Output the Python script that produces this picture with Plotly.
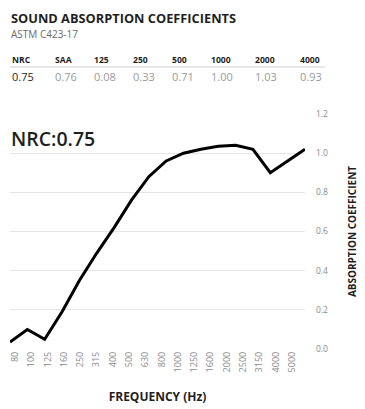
import plotly.graph_objects as go

# ---- data ----
freq_labels = ["80", "100", "125", "160", "250", "315", "400", "500", "630", "800",
               "1000", "1250", "1600", "2000", "2500", "3150", "4000", "5000"]
absorption = [0.035, 0.10, 0.05, 0.19, 0.35, 0.49, 0.62, 0.76, 0.88, 0.96,
              1.00, 1.02, 1.035, 1.04, 1.02, 0.90, 0.96, 1.02]
table_headers = ["NRC", "SAA", "125", "250", "500", "1000", "2000", "4000"]
table_values = ["0.75", "0.76", "0.08", "0.33", "0.71", "1.00", "1.03", "0.93"]
y_ticks = [0.0, 0.2, 0.4, 0.6, 0.8, 1.0, 1.2]
y_tick_text = ["0.0", "0.2", "0.4", "0.6", "0.8", "1.0", "1.2"]
nrc_text = "NRC:0.75"
title_text = "SOUND ABSORPTION COEFFICIENTS"
subtitle_text = "ASTM C423-17"

# ---- layout geometry (page pixels; page body has an 8px margin) ----
OFF = 8
W, H = 365 - OFF, 409 - OFF
PLOT_L, PLOT_R, PLOT_T, PLOT_B = 10, 305, 114, 349
L, T = PLOT_L - OFF, PLOT_T - OFF
R, B = W - (PLOT_R - OFF), H - (PLOT_B - OFF)
PW, PH = PLOT_R - PLOT_L, PLOT_B - PLOT_T
# tick labels in the reference sit on a slightly narrower band than the line
LABEL_FIRST, LABEL_LAST = 15, 292
FONT = "Open Sans"
DARK = "#1f1f1f"
GRAY = "#8a8a8a"


def px_x(x):
    return (x - PLOT_L) / PW


def px_y(y):
    return (PLOT_B - y) / PH


n = len(freq_labels)
unit = (LABEL_LAST - LABEL_FIRST) / (n - 1)
lab_range = [-(LABEL_FIRST - PLOT_L) / unit, (n - 1) + (PLOT_R - LABEL_LAST) / unit]

fig = go.Figure()
fig.add_trace(go.Scatter(
    x=freq_labels, y=absorption, mode="lines",
    line=dict(color="#000000", width=3),
    hoverinfo="skip", showlegend=False, xaxis="x",
))
# invisible carrier for the label axis
fig.add_trace(go.Scatter(
    x=freq_labels, y=absorption, mode="lines", opacity=0,
    line=dict(width=0), hoverinfo="skip", showlegend=False, xaxis="x2",
))

ann = []
ann.append(dict(text=f"<b>{title_text}</b>", x=px_x(10), y=px_y(OFF), xref="paper", yref="paper",
                xanchor="left", yanchor="top", showarrow=False, borderpad=0,
                font=dict(family=FONT, size=12.8, color=DARK)))
ann.append(dict(text=subtitle_text, x=px_x(10), y=px_y(26), xref="paper", yref="paper",
                xanchor="left", yanchor="top", showarrow=False, borderpad=0,
                font=dict(family=FONT, size=10, color="#6a6a6a")))

head_x = [10, 53, 92, 131, 170, 209, 253, 298]
for i, (h, v) in enumerate(zip(table_headers, table_values)):
    ann.append(dict(text=f"<b>{h}</b>", x=px_x(head_x[i]), y=px_y(60), xref="paper", yref="paper",
                    xanchor="left", yanchor="middle", showarrow=False,
                    font=dict(family=FONT, size=8.6, color=DARK)))
    ann.append(dict(text=v, x=px_x(head_x[i]), y=px_y(76), xref="paper", yref="paper",
                    xanchor="left", yanchor="middle", showarrow=False,
                    font=dict(family=FONT, size=11, color=DARK if i == 0 else "#9a9a9a")))

ann.append(dict(text=nrc_text, x=px_x(9), y=px_y(138), xref="paper", yref="paper",
                xanchor="left", yanchor="middle", showarrow=False,
                font=dict(family=FONT, size=19.5, color=DARK, weight=600)))

fig.add_shape(type="line", xref="paper", yref="paper",
              x0=px_x(10), x1=px_x(325), y0=px_y(67), y1=px_y(67),
              line=dict(color="#cfcfcf", width=1))

fig.update_layout(
    width=W, height=H,
    margin=dict(l=L, r=R, t=T, b=B, pad=0, autoexpand=False),
    paper_bgcolor="white", plot_bgcolor="white",
    font=dict(family=FONT, color=DARK),
    annotations=ann,
    xaxis=dict(
        type="category", range=[0, n - 1], automargin=False,
        showgrid=False, zeroline=False, showline=False,
        showticklabels=False, ticks="",
    ),
    xaxis2=dict(
        type="category", range=lab_range, automargin=False,
        overlaying="x", anchor="y", side="bottom",
        showgrid=False, zeroline=False, showline=False,
        tickangle=-90, ticks="",
        tickfont=dict(family=FONT, size=9, color=GRAY),
        title=dict(text="<b>FREQUENCY (Hz)</b>", standoff=21,
                   font=dict(family=FONT, size=12, color=DARK)),
    ),
    yaxis=dict(
        range=[0, 1.2], side="right", automargin=False,
        tickvals=y_ticks, ticktext=y_tick_text,
        showgrid=True, gridcolor="#e6e6e6", gridwidth=1,
        zeroline=False, showline=False, ticks="",
        ticklabelstandoff=10,
        tickfont=dict(family=FONT, size=8.5, color=GRAY),
        title=dict(text="<b>ABSORPTION COEFFICIENT</b>", standoff=21,
                   font=dict(family=FONT, size=10, color=DARK)),
    ),
)

fig.write_html("out.html")
